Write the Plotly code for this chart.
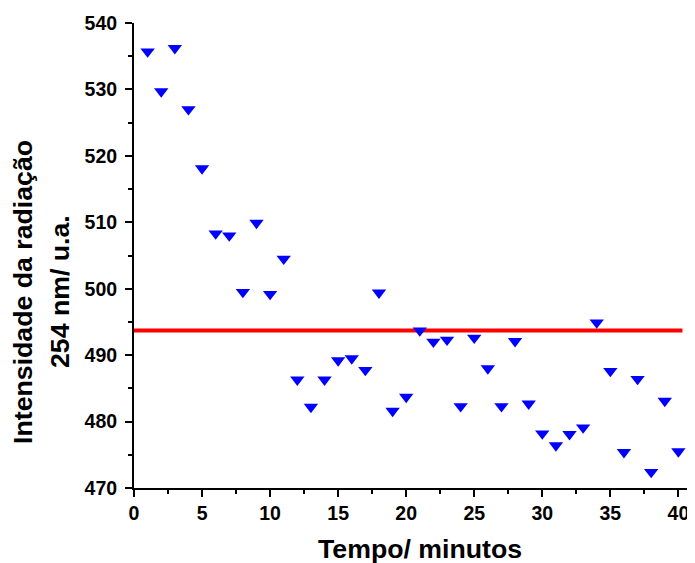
import plotly.graph_objects as go

tempo = list(range(1, 41))
intensidade = [535.7, 529.7, 536.2, 527.0, 518.1, 508.3, 508.0, 499.5, 509.9, 499.2,
               504.5, 486.3, 482.2, 486.3, 489.2, 489.5, 487.75, 499.4, 481.6, 483.7,
               493.7, 492.0, 492.3, 482.3, 492.6, 488.0, 482.3, 492.1, 482.7, 478.2,
               476.4, 478.1, 479.1, 494.9, 487.6, 475.4, 486.4, 472.4, 483.1, 475.5]
media_x = [0, 40.3]
media_y = [493.7, 493.7]

x_title = "Tempo/ minutos"
y_title_1 = "Intensidade da radiação"
y_title_2 = "254 nm/ u.a."

FONT = "Liberation Sans, Arial, sans-serif"

fig = go.Figure()
fig.add_trace(go.Scatter(x=media_x, y=media_y, mode="lines",
                         line=dict(color="#ff0000", width=4), showlegend=False))
fig.add_trace(go.Scatter(x=tempo, y=intensidade, mode="markers",
                         marker=dict(symbol="triangle-down", size=12.5, color="#0000ff"),
                         showlegend=False))

axis_common = dict(showline=True, linecolor="black", linewidth=2, ticks="outside",
                   tickwidth=2, tickcolor="black", showgrid=False, zeroline=False,
                   tickfont=dict(family=FONT, size=19.5, color="black", weight="bold"),
                   mirror=False, automargin=False)

fig.update_xaxes(range=[0, 41], tickvals=[0, 5, 10, 15, 20, 25, 30, 35, 40], ticklen=7,
                 minor=dict(ticks="outside", tickvals=[2.5, 7.5, 12.5, 17.5, 22.5, 27.5, 32.5, 37.5],
                            ticklen=4, tickwidth=2, tickcolor="black"),
                 **axis_common)
fig.update_yaxes(range=[470, 540], tickvals=[470, 480, 490, 500, 510, 520, 530, 540], ticklen=7,
                 minor=dict(ticks="outside", tickvals=[475, 485, 495, 505, 515, 525, 535],
                            ticklen=4, tickwidth=2, tickcolor="black"),
                 ticklabelstandoff=4,
                 **axis_common)

title_font = dict(family=FONT, size=26.7, color="black", weight="bold")
fig.add_annotation(text=x_title, xref="paper", yref="paper", x=0.5125, y=-0.132,
                   xanchor="center", yanchor="middle", showarrow=False, font=title_font)
fig.add_annotation(text=y_title_1, xref="paper", yref="paper", x=-0.199, y=0.4215,
                   xanchor="center", yanchor="middle", textangle=-90, showarrow=False, font=title_font)
fig.add_annotation(text=y_title_2, xref="paper", yref="paper", x=-0.1326, y=0.4215,
                   xanchor="center", yanchor="middle", textangle=-90, showarrow=False, font=title_font)

fig.update_layout(width=687, height=555, margin=dict(l=126, r=3, t=15, b=75),
                  plot_bgcolor="white", paper_bgcolor="white")

fig.write_html("out.html")
